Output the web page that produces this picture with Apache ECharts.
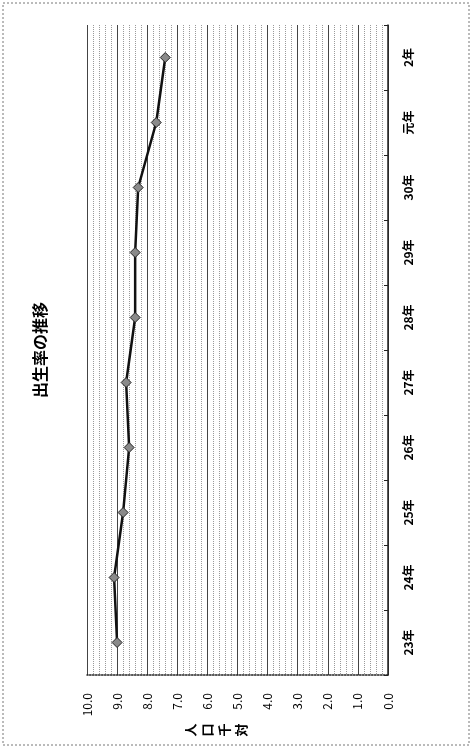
<!DOCTYPE html>
<html>
<head>
<meta charset="utf-8">
<script src="https://cdn.jsdelivr.net/npm/echarts@6/dist/echarts.min.js"></script>
<style>
html,body{margin:0;padding:0;background:#fff;}
#c{width:472px;height:749px;}
</style>
</head>
<body>
<div id="c"></div>
<script>
const categories = ['23年','24年','25年','26年','27年','28年','29年','30年','元年','2年'];
const birthRate = [9.0, 9.1, 8.8, 8.6, 8.7, 8.4, 8.4, 8.3, 7.7, 7.4];
const valueTicks = [0,1,2,3,4,5,6,7,8,9,10];
const titleText = '出生率の推移';
const unitText = '人口千対';

const font = '"Noto Sans CJK JP", "Noto Sans", sans-serif';
const chart = echarts.init(document.getElementById('c'));
chart.setOption({
  backgroundColor: '#fff',
  animation: false,
  grid: { left: 87, right: 84, top: 25, bottom: 74 },
  xAxis: {
    type: 'value',
    inverse: true,
    min: valueTicks[0],
    max: valueTicks[valueTicks.length - 1],
    interval: 1,
    axisLine: { show: true, lineStyle: { color: '#222', type: 'dotted', width: 1.5 } },
    axisTick: { show: false },
    axisLabel: {
      rotate: 90, margin: 18, fontSize: 12, color: '#000', fontFamily: font,
      formatter: v => v.toFixed(1)
    },
    splitLine: { show: true, lineStyle: { color: '#444', width: 1 } },
    minorTick: { show: false, splitNumber: 5 },
    minorSplitLine: { show: true, lineStyle: { color: '#9a9a9a', type: 'dotted', width: 1 } }
  },
  yAxis: {
    type: 'category',
    position: 'right',
    data: categories,
    boundaryGap: true,
    axisLine: { show: true, lineStyle: { color: '#222', width: 1.5 } },
    axisTick: { show: true, inside: true, length: 4, lineStyle: { color: '#222' } },
    axisLabel: { rotate: 90, margin: 14, fontSize: 12, fontWeight: 'bold', color: '#000', fontFamily: font },
    splitLine: { show: false }
  },
  graphic: [
    { type: 'rect', shape: { x: 3, y: 3, width: 466, height: 742 }, silent: true,
      style: { fill: 'none', stroke: '#777', lineWidth: 1, lineDash: [2, 2] } },
    { type: 'text', x: 40, y: 350, rotation: Math.PI / 2,
      style: { text: titleText, fontSize: 16, fontWeight: 'bold', fill: '#000', fontFamily: font,
        align: 'center', verticalAlign: 'middle' } },
    { type: 'text', x: 216, y: 730, rotation: Math.PI / 2,
      style: { text: unitText.split('').join('\n'), fontSize: 13, fontWeight: 'bold', lineHeight: 17,
        fill: '#000', fontFamily: font, align: 'center', verticalAlign: 'middle' } }
  ],
  series: [{
    type: 'line',
    data: birthRate,
    symbol: 'diamond',
    symbolSize: 10,
    lineStyle: { color: '#111', width: 2.5 },
    itemStyle: { color: '#8a8a8a', borderColor: '#222', borderWidth: 1 }
  }]
});
</script>
</body>
</html>
